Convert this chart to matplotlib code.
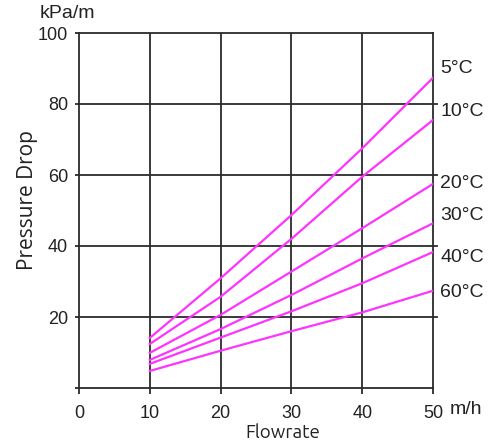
import numpy as np
import matplotlib
matplotlib.use("Agg")
import matplotlib.pyplot as plt

plt.rcParams['font.family'] = ['Liberation Sans', 'DejaVu Sans']

flow = [10, 20, 30, 40, 50]
temps = ['5°C', '10°C', '20°C', '30°C', '40°C', '60°C']
drops = [
    [14.1, 30.9, 48.7, 67.5, 87.4],
    [12.4, 25.7, 42.0, 59.5, 75.5],
    [9.9, 20.6, 32.8, 45.0, 57.5],
    [7.9, 16.6, 26.2, 36.5, 46.4],
    [6.8, 14.2, 21.6, 29.5, 38.3],
    [4.8, 10.5, 16.0, 21.3, 27.4],
]
label_y = [90.0, 77.8, 57.5, 48.7, 36.8, 26.8]

W, H = 499, 441
fig = plt.figure(figsize=(W / 100, H / 100), dpi=100)
ax = fig.add_axes([79 / W, 1 - 388 / H, (433 - 79) / W, (388 - 33) / H])

ax.set_xlim(0, 50)
ax.set_ylim(0, 100)
ax.set_xticks([0, 10, 20, 30, 40, 50])
ax.set_yticks([20, 40, 60, 80, 100])
ax.set_yticks([0], minor=True)

gc = '#2b2b2b'
for x in [10, 20, 30, 40]:
    ax.axvline(x, color=gc, lw=1.3, zorder=1)
for y in [20, 40, 60, 80]:
    ax.plot([0, 50.5], [y, y], color=gc, lw=1.3, zorder=1, clip_on=False)
for s in ax.spines.values():
    s.set_color(gc)
    s.set_linewidth(1.3)

for d in drops:
    ax.plot(flow, d, color='#ff33ff', lw=1.6, zorder=3)

for t, ly in zip(temps, label_y):
    ax.text(51, ly, t, fontsize=14, color='#222222', va='center', ha='left',
            clip_on=False, family='Liberation Sans')

ax.tick_params(axis='x', direction='out', length=4, width=1.3, color=gc,
               labelsize=13, pad=8, labelcolor='#222222')
ax.tick_params(axis='y', which='both', direction='out', length=3, width=1.3,
               color=gc, labelsize=13, pad=5, labelcolor='#222222')
for lab in ax.get_xticklabels() + ax.get_yticklabels():
    lab.set_family('Liberation Sans')

fig.text(450 / W, 1 - 410 / H, 'm/h', fontsize=14, va='center', ha='left',
         color='#222222', family='Liberation Sans')
fig.text(40 / W, 1 - 14 / H, 'kPa/m', fontsize=14, va='center', ha='left',
         color='#222222', family='Liberation Sans')
fig.text(283 / W, 1 - 432 / H, 'Flowrate', fontsize=13.5, va='center',
         ha='center', color='#222222', family=['Ubuntu', 'Open Sans', 'DejaVu Sans'])
fig.text(27 / W, 1 - 200 / H, 'Pressure Drop', fontsize=15, va='center',
         ha='center', rotation=90, color='#222222',
         family=['Ubuntu Condensed', 'Open Sans', 'DejaVu Sans'])

fig.savefig('out.png', dpi=100)
